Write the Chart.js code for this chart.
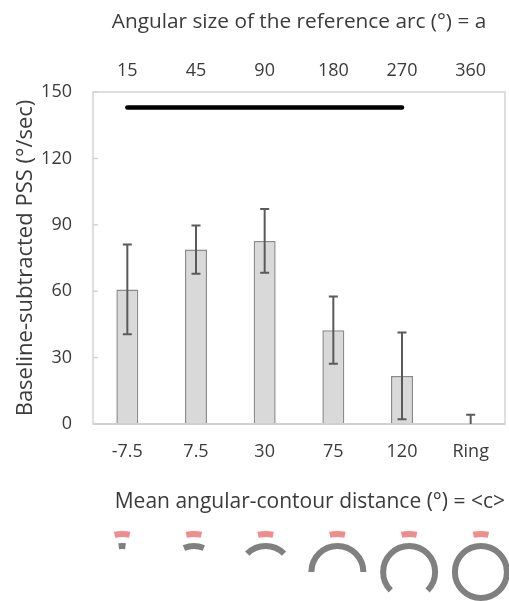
<!DOCTYPE html>
<html>
<head>
<meta charset="utf-8">
<script src="https://cdn.jsdelivr.net/npm/chart.js@4.4.1/dist/chart.umd.min.js"></script>
<style>
  html, body { margin: 0; padding: 0; background: #fff; }
  canvas { display: block; }
</style>
</head>
<body>
<canvas id="chart" width="509" height="601"></canvas>
<script>
// distance categories (bottom axis) and arc sizes (top axis)
const categories = ['-7.5', '7.5', '30', '75', '120', 'Ring'];
const arcSizes = [15, 45, 90, 180, 270, 360];
const topLabels = arcSizes.map(String);
const pssValues = [60.8, 78.8, 82.7, 42.4, 21.7, 0.4];
const pssErrors = [20.3, 10.9, 14.4, 15.2, 19.6, 3.8];
// significance bar from -7.5 to 120
const sigLine = [143, 143, 143, 143, 143, null];

const yTicks = [0, 30, 60, 90, 120, 150];
const textColor = '#3b3b3b';
const fontFamily = '"Open Sans", Lato, sans-serif';

const boxPlugin = {
  id: 'box',
  beforeDatasetsDraw(chart) {
    const { ctx, chartArea: a, scales } = chart;
    ctx.save();
    ctx.strokeStyle = '#d4d4d4';
    ctx.lineWidth = 1.5;
    ctx.strokeRect(a.left, a.top, a.right - a.left, a.bottom - a.top);
    // inner tick marks on y
    ctx.beginPath();
    yTicks.forEach(v => {
      const y = scales.y.getPixelForValue(v);
      ctx.moveTo(a.left, y);
      ctx.lineTo(a.left + 5, y);
    });
    ctx.stroke();
    ctx.restore();
  },
  afterDatasetsDraw(chart) {
    const { ctx, chartArea: a } = chart;
    ctx.save();
    ctx.strokeStyle = '#d0d0d0';
    ctx.lineWidth = 2;
    ctx.beginPath();
    ctx.moveTo(a.left, a.bottom);
    ctx.lineTo(a.right, a.bottom);
    ctx.stroke();
    ctx.restore();
  }
};

const errorBarPlugin = {
  id: 'errorBars',
  afterDatasetsDraw(chart) {
    const { ctx, chartArea: a, scales } = chart;
    const meta = chart.getDatasetMeta(0);
    ctx.save();
    ctx.beginPath();
    ctx.rect(a.left, a.top, a.right - a.left, a.bottom - a.top);
    ctx.clip();
    ctx.strokeStyle = '#5a5a5a';
    ctx.lineWidth = 2;
    meta.data.forEach((bar, i) => {
      const x = bar.x;
      const yHi = scales.y.getPixelForValue(pssValues[i] + pssErrors[i]);
      const yLo = scales.y.getPixelForValue(pssValues[i] - pssErrors[i]);
      ctx.beginPath();
      ctx.moveTo(x, yHi); ctx.lineTo(x, yLo);
      ctx.moveTo(x - 4.5, yHi); ctx.lineTo(x + 4.5, yHi);
      ctx.moveTo(x - 4.5, yLo); ctx.lineTo(x + 4.5, yLo);
      ctx.stroke();
    });
    ctx.restore();
  }
};

// little arc pictograms under each category
const iconPlugin = {
  id: 'icons',
  afterDraw(chart) {
    const { ctx, scales } = chart;
    const mid = scales.x.getPixelForValue(2.5);
    const cy = 572;
    ctx.save();
    ctx.lineCap = 'butt';
    arcSizes.forEach((deg, i) => {
      const cx = mid + 2.5 + (scales.x.getPixelForValue(i) - mid) * 1.045;
      const half = deg / 2 * Math.PI / 180;
      ctx.strokeStyle = '#808080';
      ctx.lineWidth = 6;
      ctx.beginPath();
      if (deg >= 360) ctx.arc(cx, cy, 26, 0, Math.PI * 2);
      else ctx.arc(cx, cy, 26, -Math.PI / 2 - half, -Math.PI / 2 + half);
      ctx.stroke();
      const ph = 11.5 * Math.PI / 180;
      ctx.strokeStyle = '#f08c8c';
      ctx.beginPath();
      ctx.arc(cx, cy, 38, -Math.PI / 2 - ph, -Math.PI / 2 + ph);
      ctx.stroke();
    });
    ctx.restore();
  }
};

const noGrid = { display: false, drawTicks: false, tickLength: 0 };

new Chart(document.getElementById('chart').getContext('2d'), {
  data: {
    labels: categories,
    datasets: [{
      type: 'bar',
      data: pssValues,
      backgroundColor: '#d9d9d9',
      borderColor: '#8a8a8a',
      borderWidth: 1.5,
      barPercentage: 0.64,
      categoryPercentage: 0.5,
      order: 2
    }, {
      type: 'line',
      data: sigLine,
      borderColor: '#000',
      borderWidth: 4.5,
      borderCapStyle: 'round',
      pointRadius: 0,
      spanGaps: false,
      order: 1
    }]
  },
  options: {
    responsive: false,
    devicePixelRatio: 1,
    animation: false,
    layout: { padding: { left: 0, right: 4, top: 0, bottom: 0 } },
    plugins: { legend: { display: false }, tooltip: { enabled: false } },
    scales: {
      x: {
        type: 'category',
        position: 'bottom',
        offset: true,
        grid: noGrid,
        border: { display: false },
        ticks: { color: textColor, font: { family: fontFamily, size: 18 }, padding: 17 },
        title: {
          display: true,
          align: 'end',
          text: 'Mean angular-contour distance (°) = <c>',
          color: textColor,
          font: { family: fontFamily, size: 21 },
          padding: { top: 0, bottom: 86 }
        },
        afterFit(scale) { scale.height = 177; }
      },
      x2: {
        type: 'category',
        position: 'top',
        labels: topLabels,
        offset: true,
        grid: noGrid,
        border: { display: false },
        ticks: { color: textColor, font: { family: fontFamily, size: 18 }, padding: 10 },
        title: {
          display: true,
          text: 'Angular size of the reference arc (°) = a',
          color: textColor,
          font: { family: fontFamily, size: 20.8 },
          padding: { top: 10, bottom: 0 }
        },
        afterFit(scale) { scale.height = 92; }
      },
      y: {
        min: 0,
        max: 150,
        grid: noGrid,
        border: { display: false },
        ticks: { stepSize: 30, color: textColor, font: { family: fontFamily, size: 18 }, padding: 21 },
        title: {
          display: true,
          text: 'Baseline-subtracted PSS (°/sec)',
          color: textColor,
          font: { family: fontFamily, size: 22 },
          padding: { top: 13, bottom: 0 }
        },
        afterFit(scale) { scale.width = 93; }
      }
    }
  },
  plugins: [boxPlugin, errorBarPlugin, iconPlugin]
});
</script>
</body>
</html>
